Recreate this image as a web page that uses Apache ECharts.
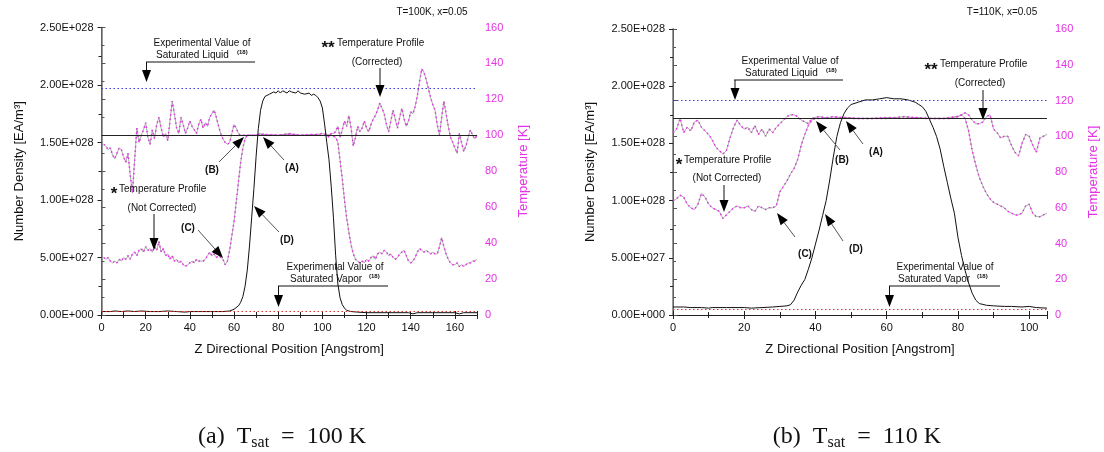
<!DOCTYPE html>
<html>
<head>
<meta charset="utf-8">
<script src="https://cdn.jsdelivr.net/npm/echarts@6/dist/echarts.min.js"></script>
<style>
  html, body { margin: 0; padding: 0; background: #fff; }
  #chart { width: 1104px; height: 452px; }
</style>
</head>
<body>
<div id="chart"></div>
<script>
// ---- data ----
// density in units of 1E+028 EA/m3, positions in Angstrom, temperature in K
var densityTickLabels = ['0.00E+000', '5.00E+027', '1.00E+028', '1.50E+028', '2.00E+028', '2.50E+028'];

var densityA = [[0,0.03],[4,0.03],[6,0.035],[9,0.03],[12,0.035],[15,0.03],[18,0.035],[22,0.03],[26,0.03],[30,0.035],[34,0.03],[38,0.025],[40,0.03],[45,0.03],[50,0.03],[55,0.03],[58,0.035],[60,0.05],[62,0.08],[63,0.11],[64,0.16],[65,0.25],[66,0.39],[67,0.6],[68,0.85],[69,1.1],[70,1.38],[71,1.62],[72,1.78],[73,1.86],[74,1.9],[76,1.92],[78,1.94],[79,1.93],[80,1.95],[81,1.93],[82,1.95],[84,1.93],[85,1.95],[86,1.94],[88,1.93],[89,1.95],[90,1.93],[92,1.92],[94,1.93],[95,1.91],[96,1.92],[97,1.91],[98,1.89],[99,1.86],[100,1.8],[101,1.66],[102,1.5],[103,1.35],[104,1.12],[105,0.85],[106,0.52],[107,0.27],[108,0.15],[109,0.09],[110,0.06],[111,0.04],[113,0.03],[116,0.025],[120,0.02],[130,0.02],[139,0.02],[141,0.01],[143,0.02],[150,0.02],[160,0.02],[162,0.01],[164,0.02],[170,0.02]];

var tempNotCorrA = [[1,32],[2,31],[3,32],[4,30],[5,29],[6,30],[7,29],[8,31],[9,30],[10,32],[11,31],[12,33],[13,31],[14,34],[15,35],[16,33],[17,36],[18,37],[19,35],[20,38],[21,36],[22,37],[23,35],[24,38],[25,36],[26,41],[27,35],[28,37],[29,33],[30,34],[31,31],[32,33],[33,30],[34,31],[35,29],[36,30],[37,28],[38,27],[39,28],[40,29],[41,30],[42,29],[43,31],[44,30],[45,30],[46,30],[47,31],[48,33],[49,35],[50,33],[51,34],[52,32],[53,33],[54,32],[55,31],[56,28],[57,30],[58,36],[59,44],[60,52],[61,63],[62,74],[63,85],[64,93],[65,98],[66,100],[68,100],[70,100],[72,101],[75,100],[80,100],[85,101],[90,100],[95,100],[100,101],[104,100],[106,99],[107,96],[108,86],[109,76],[110,64],[111,54],[112,46],[113,39],[114,34],[115,31],[116,30],[117,29],[118,30],[119,29],[120,31],[121,30],[122,32],[123,33],[124,31],[125,34],[126,35],[127,34],[128,36],[129,35],[130,33],[131,34],[132,32],[133,31],[134,32],[135,34],[136,35],[137,36],[138,33],[139,30],[140,29],[141,30],[142,32],[143,35],[144,37],[145,36],[146,35],[147,36],[148,35],[149,34],[150,35],[151,34],[152,34],[153,38],[154,43],[155,38],[156,34],[157,31],[158,29],[159,28],[160,28],[161,29],[162,27],[163,28],[164,27],[165,28],[166,29],[167,29],[168,30],[169,30],[170,31]];

var tempCorrA = [[1,95],[2,94],[3,92],[4,93],[5,89],[6,87],[7,90],[8,93],[9,92],[10,88],[11,85],[12,90],[13,78],[14,68],[15,86],[16,104],[17,96],[18,100],[19,103],[20,107],[21,99],[22,95],[23,103],[24,98],[25,106],[26,110],[27,104],[28,99],[29,101],[30,97],[31,108],[32,119],[33,112],[34,104],[35,101],[36,110],[37,106],[38,101],[39,104],[40,108],[41,105],[42,103],[43,101],[44,106],[45,109],[46,104],[47,107],[48,105],[49,110],[50,112],[51,114],[52,110],[53,105],[54,101],[55,98],[56,96],[57,95],[58,96],[59,101],[60,106],[61,104],[62,101],[63,100],[65,100],[70,100],[75,100.5],[80,100],[85,100.5],[90,100],[95,100.5],[100,100],[102,100],[103,99],[104,101],[105,101],[106,102],[107,105],[108,99],[109,103],[110,108],[111,105],[112,111],[113,104],[114,94],[115,99],[116,105],[117,102],[118,104],[119,108],[120,104],[121,102],[122,106],[123,109],[124,111],[125,114],[126,118],[127,115],[128,112],[129,106],[130,102],[131,108],[132,114],[133,109],[134,104],[135,110],[136,115],[137,109],[138,105],[139,108],[140,113],[141,112],[142,116],[143,122],[144,130],[145,137],[146,135],[147,131],[148,126],[149,121],[150,117],[151,114],[152,106],[153,100],[154,110],[155,119],[156,112],[157,105],[158,99],[159,96],[160,93],[161,90],[162,101],[163,96],[164,91],[165,94],[166,99],[167,103],[168,100],[169,98],[170,100]];

var densityB = [[0,0.07],[3,0.07],[5,0.065],[8,0.065],[10,0.06],[11,0.065],[15,0.065],[20,0.065],[22,0.06],[25,0.065],[28,0.07],[30,0.075],[32,0.08],[33,0.09],[34,0.13],[35,0.2],[36,0.26],[37,0.31],[38,0.4],[39,0.5],[40,0.62],[41,0.74],[42,0.87],[43,1.0],[44,1.18],[45,1.38],[46,1.56],[47,1.68],[48,1.76],[49,1.81],[50,1.84],[52,1.86],[54,1.88],[56,1.88],[58,1.89],[60,1.9],[62,1.89],[64,1.89],[66,1.88],[68,1.86],[69,1.84],[70,1.82],[71,1.78],[72,1.71],[73,1.64],[74,1.56],[75,1.45],[76,1.3],[77,1.16],[78,1.02],[79,0.89],[80,0.68],[81,0.52],[82,0.39],[83,0.28],[84,0.19],[85,0.13],[86,0.1],[88,0.085],[90,0.08],[93,0.075],[95,0.075],[98,0.07],[100,0.075],[102,0.065],[105,0.06]];

var tempNotCorrB = [[0,64],[1,65],[2,67],[3,66],[4,62],[5,60],[6,59],[7,62],[8,68],[9,66],[10,62],[11,60],[12,59],[13,58],[14,54],[15,56],[16,58],[17,60],[18,61],[19,60],[20,60],[21,61],[22,59],[23,58],[24,61],[25,60],[26,59],[27,60],[28,60],[29,61],[30,69],[31,72],[32,75],[33,79],[34,82],[35,87],[36,95],[37,101],[38,106],[39,109],[40,110],[42,110],[45,111],[50,110],[55,110],[60,110],[65,111],[70,110],[75,110],[78,110],[80,111],[81,112],[82,110],[83,103],[84,92],[85,84],[86,77],[87,72],[88,68],[89,65],[90,63],[91,62],[92,61],[93,60],[94,58],[95,57],[96,56],[97,56],[98,57],[99,61],[100,62],[101,57],[102,55],[103,55],[104,56],[105,57]];

var tempCorrB = [[0,102],[1,104],[2,110],[3,102],[4,105],[5,103],[6,108],[7,109],[8,105],[9,103],[10,101],[11,98],[12,94],[13,92],[14,90],[15,92],[16,99],[17,105],[18,109],[19,106],[20,104],[21,105],[22,102],[23,106],[24,101],[25,104],[26,100],[27,104],[28,102],[29,105],[30,107],[31,109],[32,111],[33,112],[34,112],[35,111],[36,109],[37,108],[38,107],[39,110],[41,111],[44,110],[48,110.5],[52,110],[56,110],[60,110.5],[64,110],[68,110.5],[72,110],[76,110],[78,110.5],[79,111],[80,111],[81,112],[82,113],[83,112],[84,109],[85,107],[86,107],[87,108],[88,111],[89,112],[90,104],[91,102],[92,99],[93,100],[94,100],[95,95],[96,91],[97,89],[98,96],[99,101],[100,100],[101,95],[102,91],[103,99],[104,100],[105,101]];

// reference lines: [saturated liquid density, saturated vapor density, set temperature]
var refA = [1.97, 0.026, 100];
var refB = [1.88, 0.05, 110];

// ---- chart ----
var MAG = '#e632e6';
var FONT = 'Liberation Sans';

function xAxes(gi, max) {
    return [{
        gridIndex: gi, type: 'value', min: 0, max: max, interval: 20,
        name: 'Z Directional Position [Angstrom]', nameLocation: 'middle', nameGap: 28,
        nameTextStyle: { fontFamily: FONT, fontSize: 13, color: '#111' },
        axisLine: { lineStyle: { color: '#222' } },
        axisTick: { inside: true, length: 4, lineStyle: { color: '#222' } },
        minorTick: { show: true, splitNumber: 2, length: 3, lineStyle: { color: '#222' } },
        axisLabel: { fontFamily: FONT, fontSize: 11, color: '#111', margin: 7, showMaxLabel: false },
        splitLine: { show: false }
    }, {
        gridIndex: gi, type: 'value', position: 'top', min: 0, max: max, interval: 20,
        axisLine: { lineStyle: { color: '#222' } },
        axisTick: { inside: true, length: 4, lineStyle: { color: '#222' } },
        minorTick: { show: true, splitNumber: 2, length: 3, lineStyle: { color: '#222' } },
        axisLabel: { show: false },
        splitLine: { show: false }
    }];
}

function yAxes(gi) {
    return [{
        gridIndex: gi, type: 'value', min: 0, max: 2.5, interval: 0.5,
        name: 'Number Density [EA/m³]', nameLocation: 'middle', nameGap: 76, nameRotate: 90,
        nameTextStyle: { fontFamily: FONT, fontSize: 13, color: '#111' },
        axisLine: { show: true, lineStyle: { color: '#222' } },
        axisTick: { show: true, length: 4, lineStyle: { color: '#222' } },
        minorTick: { show: true, splitNumber: 2, length: 3, lineStyle: { color: '#222' } },
        axisLabel: {
            fontFamily: FONT, fontSize: 11, color: '#111', margin: 8,
            formatter: function (v) { return densityTickLabels[Math.round(v / 0.5)]; }
        },
        splitLine: { show: false }
    }, {
        gridIndex: gi, type: 'value', position: 'right', min: 0, max: 160, interval: 20,
        name: 'Temperature [K]', nameLocation: 'middle', nameGap: 40, nameRotate: 90,
        nameTextStyle: { fontFamily: FONT, fontSize: 13, color: MAG },
        axisLine: { show: true, lineStyle: { color: '#777', width: 1.5 } },
        axisTick: { show: true, length: 4, lineStyle: { color: '#555' } },
        minorTick: { show: true, splitNumber: 2, length: 3, lineStyle: { color: '#555' } },
        axisLabel: { fontFamily: FONT, fontSize: 11, color: MAG, margin: 8 },
        splitLine: { show: false }
    }];
}

function refLine(val, color, type) {
    return {
        silent: true, symbol: 'none', label: { show: false },
        lineStyle: { color: color, type: type, width: 1 },
        data: [{ yAxis: val }]
    };
}

function panelSeries(xi, yi, dens, tNot, tCorr, ref) {
    var out = [];
    [tNot, tCorr].forEach(function (d, k) {
        out.push({
            type: 'line', xAxisIndex: xi, yAxisIndex: yi + 1, data: d, showSymbol: false,
            lineStyle: { color: '#999', width: 0.8 }, z: 2
        });
        var s = {
            type: 'line', xAxisIndex: xi, yAxisIndex: yi + 1, data: d, showSymbol: false,
            lineStyle: { color: MAG, width: 1.5, type: [1.5, 3] }, z: 3
        };
        if (k === 1) s.markLine = refLine(ref[2], '#222', 'solid');
        out.push(s);
    });
    out.push({
        type: 'line', xAxisIndex: xi, yAxisIndex: yi, data: dens, showSymbol: false,
        lineStyle: { color: '#111', width: 1 }, z: 4,
        markLine: {
            silent: true, symbol: 'none', label: { show: false },
            data: [
                { yAxis: ref[0], lineStyle: { color: '#3a3ae0', type: [1.5, 2.5], width: 1.2 } },
                { yAxis: ref[1], lineStyle: { color: '#e03030', type: [1.5, 2.5], width: 1.2 } }
            ]
        }
    });
    return out;
}

// ---- annotations ----
function txt(x, y, s, size, opt) {
    opt = opt || {};
    return {
        type: 'text', x: x, y: y, silent: true, z: 100,
        style: {
            text: s, fontFamily: opt.family || FONT, fontSize: size,
            fontWeight: opt.bold ? 'bold' : 'normal', fill: opt.color || '#111',
            align: opt.align || 'center', verticalAlign: 'middle', rich: opt.rich
        }
    };
}
function seg(x1, y1, x2, y2, color) {
    return { type: 'line', silent: true, z: 100, shape: { x1: x1, y1: y1, x2: x2, y2: y2 },
             style: { stroke: color || '#111', lineWidth: 1 } };
}
function arrow(x1, y1, x2, y2, color) {
    var dx = x2 - x1, dy = y2 - y1, L = Math.sqrt(dx * dx + dy * dy), ux = dx / L, uy = dy / L;
    var hl = 12, hw = 4.5, bx = x2 - ux * hl, by = y2 - uy * hl;
    return [seg(x1, y1, bx, by, color), {
        type: 'polygon', silent: true, z: 100,
        shape: { points: [[x2, y2], [bx - uy * hw, by + ux * hw], [bx + uy * hw, by - ux * hw]] },
        style: { fill: '#000' }
    }];
}
function caption(cx, letter, temp) {
    return txt(cx, 437, '{n|(' + letter + ')  T}{s|sat}{n|  =  ' + temp + ' K}', 24, {
        rich: {
            n: { fontFamily: 'Liberation Serif', fontSize: 24, color: '#000', lineHeight: 28, verticalAlign: 'middle' },
            s: { fontFamily: 'Liberation Serif', fontSize: 16, color: '#000', lineHeight: 16, verticalAlign: 'bottom' }
        }
    });
}

var g = [];
// panel (a)
g.push(txt(432, 12, 'T=100K, x=0.05', 10));
g.push(txt(202, 43, 'Experimental Value of', 10));
g.push(txt(156, 55, 'Saturated Liquid', 10, { align: 'left' }));
g.push(txt(237, 52, '(18)', 6, { align: 'left', bold: true }));
g.push(seg(146, 62, 255, 62));
g = g.concat(arrow(146.5, 62, 146.5, 82));
g.push(txt(328, 48, '**', 17, { bold: true }));
g.push(txt(337, 43, 'Temperature Profile', 10, { align: 'left' }));
g.push(txt(377, 62, '(Corrected)', 10));
g = g.concat(arrow(380, 68, 380, 97));
g.push(txt(292, 168, '(A)', 10, { bold: true }));
g = g.concat(arrow(284, 160, 263, 137, '#555'));
g.push(txt(212, 170, '(B)', 10, { bold: true }));
g = g.concat(arrow(219, 162, 244, 137, '#555'));
g.push(txt(114, 194, '*', 17, { bold: true }));
g.push(txt(119, 189, 'Temperature Profile', 10, { align: 'left' }));
g.push(txt(162, 208, '(Not Corrected)', 10));
g = g.concat(arrow(154, 214, 154, 250));
g.push(txt(188, 228, '(C)', 10, { bold: true }));
g = g.concat(arrow(198, 230, 223, 258, '#555'));
g.push(txt(287, 240, '(D)', 10, { bold: true }));
g = g.concat(arrow(279, 232, 254, 206, '#555'));
g.push(txt(335, 267, 'Experimental Value of', 10));
g.push(txt(290, 279, 'Saturated Vapor', 10, { align: 'left' }));
g.push(txt(369, 276, '(18)', 6, { align: 'left', bold: true }));
g.push(seg(278, 286, 388, 286));
g = g.concat(arrow(278.5, 286, 278.5, 307));
g.push(caption(282, 'a', '100'));
// panel (b)
g.push(txt(1002, 12, 'T=110K, x=0.05', 10));
g.push(txt(790, 61, 'Experimental Value of', 10));
g.push(txt(745, 73, 'Saturated Liquid', 10, { align: 'left' }));
g.push(txt(826, 70, '(18)', 6, { align: 'left', bold: true }));
g.push(seg(734, 80, 843, 80));
g = g.concat(arrow(735, 80, 735, 100));
g.push(txt(931, 70, '**', 17, { bold: true }));
g.push(txt(940, 64, 'Temperature Profile', 10, { align: 'left' }));
g.push(txt(980, 83, '(Corrected)', 10));
g = g.concat(arrow(983, 90, 983, 120));
g.push(txt(876, 152, '(A)', 10, { bold: true }));
g = g.concat(arrow(863, 144, 846, 121, '#555'));
g.push(txt(842, 160, '(B)', 10, { bold: true }));
g = g.concat(arrow(840, 150, 816, 121, '#555'));
g.push(txt(679, 165, '*', 17, { bold: true }));
g.push(txt(684, 160, 'Temperature Profile', 10, { align: 'left' }));
g.push(txt(727, 178, '(Not Corrected)', 10));
g = g.concat(arrow(724, 185, 724, 212));
g.push(txt(805, 254, '(C)', 10, { bold: true }));
g = g.concat(arrow(795, 237, 777, 213, '#555'));
g.push(txt(856, 249, '(D)', 10, { bold: true }));
g = g.concat(arrow(843, 241, 825, 214, '#555'));
g.push(txt(945, 267, 'Experimental Value of', 10));
g.push(txt(898, 279, 'Saturated Vapor', 10, { align: 'left' }));
g.push(txt(977, 276, '(18)', 6, { align: 'left', bold: true }));
g.push(seg(889, 286, 1000, 286));
g = g.concat(arrow(889.5, 286, 889.5, 307));
g.push(caption(857, 'b', '110'));

var chart = echarts.init(document.getElementById('chart'));
chart.setOption({
    animation: false,
    backgroundColor: '#fff',
    grid: [
        { left: 101.5, right: 627, top: 27.5, bottom: 137, outerBoundsMode: 'none' },
        { left: 673, right: 57, top: 29, bottom: 137, outerBoundsMode: 'none' }
    ],
    xAxis: xAxes(0, 170).concat(xAxes(1, 105)),
    yAxis: yAxes(0).concat(yAxes(1)),
    series: panelSeries(0, 0, densityA, tempNotCorrA, tempCorrA, refA)
        .concat(panelSeries(2, 2, densityB, tempNotCorrB, tempCorrB, refB)),
    graphic: g
});
</script>
</body>
</html>
